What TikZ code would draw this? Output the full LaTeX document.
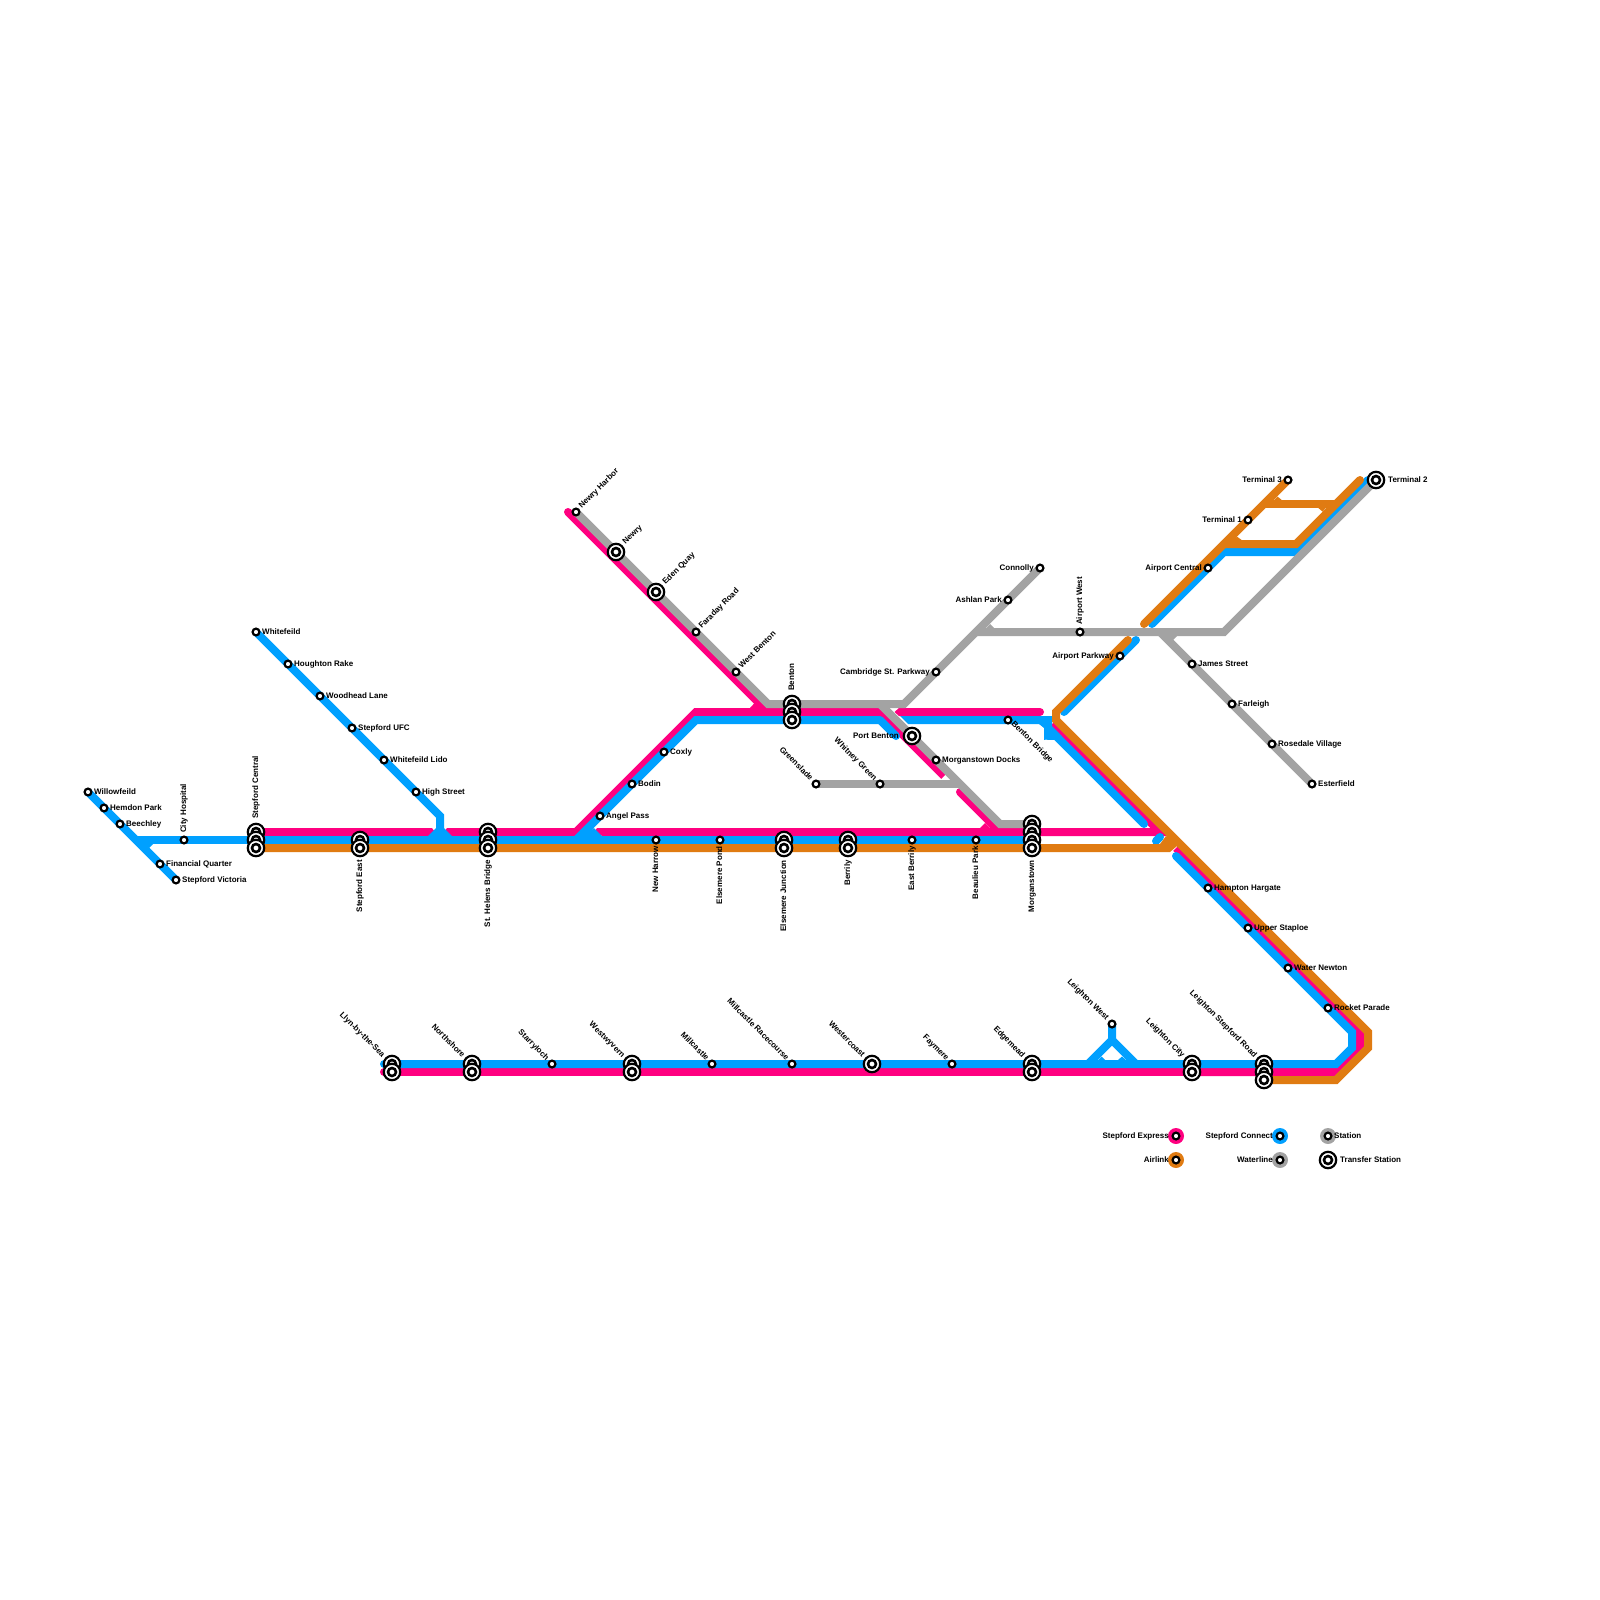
\documentclass[tikz,border=0pt]{standalone}
\usepackage{fontspec}
\setmainfont{Liberation Sans}
\pgfdeclarelayer{lpink}\pgfdeclarelayer{lblue}\pgfdeclarelayer{lgrey}\pgfdeclarelayer{lorange}
\pgfsetlayers{lpink,lblue,lgrey,lorange,main}
\definecolor{cpink}{HTML}{FF0080}
\definecolor{cblue}{HTML}{00A0FF}
\definecolor{cgrey}{HTML}{A3A3A3}
\definecolor{corange}{HTML}{E07B12}
\tikzset{
  stationdot/.style={circle,draw=black,fill=white,line width=2.2pt,inner sep=0pt,minimum size=6.8pt},
  innerdot/.style={circle,draw=black,fill=white,line width=2.6pt,inner sep=0pt,minimum size=8pt},
  xferring/.style={circle,draw=black,fill=white,line width=2.2pt,inner sep=0pt,minimum size=16.4pt},
  lab/.style={inner sep=0pt,font=\bfseries\fontsize{8}{8}\selectfont,text=black},
  swatch/.style={circle,inner sep=0pt,minimum size=16pt},
  pk/.style={draw=cpink,line width=8pt},
  bl/.style={draw=cblue,line width=8pt},
  gy/.style={draw=cgrey,line width=8pt},
  og/.style={draw=corange,line width=8pt},
  rc/.style={line cap=round}
}
\newcommand{\stn}[3]{\node[stationdot] (#1) at (#2,#3) {};}
\newcommand{\xfr}[3]{\node[xferring] (#1) at (#2,#3) {};\node[innerdot] (#1in) at (#1.center) {};}
\newcommand{\lab}[6]{\node[lab,anchor=#3,rotate=#4] (l#1) at ([shift={(#5,#6)}]#1.center) {#2};}
\newcommand{\labE}[2]{\lab{#1}{#2}{base west}{0}{6}{2}}
\newcommand{\labW}[2]{\lab{#1}{#2}{base east}{0}{-6}{2}}
\newcommand{\labN}[2]{\lab{#1}{#2}{base west}{90}{2}{-7}}
\newcommand{\labNb}[2]{\lab{#1}{#2}{base west}{90}{2}{-13}}
\newcommand{\labS}[2]{\lab{#1}{#2}{base east}{90}{2}{6}}
\newcommand{\labSb}[2]{\lab{#1}{#2}{base east}{90}{2}{12}}
\newcommand{\labNE}[2]{\lab{#1}{#2}{base west}{45}{5.7}{-3}}
\newcommand{\labNEb}[2]{\lab{#1}{#2}{base west}{45}{9.5}{-7}}
\newcommand{\labNW}[2]{\lab{#1}{#2}{base east}{-45}{-6}{-3}}
\newcommand{\labNWb}[2]{\lab{#1}{#2}{base east}{-45}{-10}{-6}}
\begin{document}
\begin{tikzpicture}[x=1pt,y=-1pt]
\useasboundingbox (0,0) rectangle (1600,1600);
% ---- stations
\stn{willow}{88}{792}\stn{hemdon}{104}{808}\stn{beech}{120}{824}\stn{finq}{160}{864}\stn{stvic}{176}{880}\stn{cityh}{184}{840}
\xfr{scA}{256}{832}\xfr{scB}{256}{840}\xfr{scC}{256}{848}
\stn{white}{256}{632}\stn{hough}{288}{664}\stn{wood}{320}{696}\stn{sufc}{352}{728}\stn{wlido}{384}{760}\stn{high}{416}{792}
\xfr{seA}{360}{840}\xfr{seB}{360}{848}
\xfr{shA}{488}{832}\xfr{shB}{488}{840}\xfr{shC}{488}{848}
\stn{angel}{600}{816}\stn{bodin}{632}{784}\stn{coxly}{664}{752}
\stn{nharrow}{656}{840}\stn{epond}{720}{840}
\xfr{ejA}{784}{840}\xfr{ejB}{784}{848}
\xfr{beA}{848}{840}\xfr{beB}{848}{848}
\stn{eberr}{912}{840}\stn{beau}{976}{840}
\xfr{moA}{1032}{824}\xfr{moB}{1032}{832}\xfr{moC}{1032}{840}\xfr{moD}{1032}{848}
\stn{nharbor}{576}{512}\xfr{newry}{616}{552}\xfr{eden}{656}{592}\stn{fara}{696}{632}\stn{wbent}{736}{672}
\xfr{bnA}{792}{704}\xfr{bnB}{792}{712}\xfr{bnC}{792}{720}
\xfr{pbent}{912}{736}\stn{mdocks}{936}{760}\stn{green}{816}{784}\stn{whit}{880}{784}
\stn{camb}{936}{672}\stn{ashlan}{1008}{600}\stn{conn}{1040}{568}\stn{bbridge}{1008}{720}
\stn{awest}{1080}{632}\stn{apark}{1120}{656}\stn{acent}{1208}{568}\stn{tone}{1248}{520}\stn{tthree}{1288}{480}\xfr{ttwo}{1376}{480}
\stn{james}{1192}{664}\stn{farl}{1232}{704}\stn{rose}{1272}{744}\stn{ester}{1312}{784}
\stn{hamp}{1208}{888}\stn{upper}{1248}{928}\stn{water}{1288}{968}\stn{rocket}{1328}{1008}
\xfr{llA}{392}{1064}\xfr{llB}{392}{1072}\xfr{noA}{472}{1064}\xfr{noB}{472}{1072}
\stn{starr}{552}{1064}\xfr{weA}{632}{1064}\xfr{weB}{632}{1072}\stn{mill}{712}{1064}\stn{mrace}{792}{1064}
\xfr{wcoast}{872}{1064}\stn{fay}{952}{1064}\xfr{edA}{1032}{1064}\xfr{edB}{1032}{1072}
\stn{lwest}{1112}{1024}\xfr{lcA}{1192}{1064}\xfr{lcB}{1192}{1072}\xfr{lsA}{1264}{1064}\xfr{lsB}{1264}{1072}\xfr{lsC}{1264}{1080}
% ---- labels
\labE{willow}{Willowfeild}\labE{hemdon}{Hemdon Park}\labE{beech}{Beechley}\labE{finq}{Financial Quarter}\labE{stvic}{Stepford Victoria}
\labN{cityh}{City Hospital}\labNb{scA}{Stepford Central}
\labE{white}{Whitefeild}\labE{hough}{Houghton Rake}\labE{wood}{Woodhead Lane}\labE{sufc}{Stepford UFC}\labE{wlido}{Whitefeild Lido}\labE{high}{High Street}
\labSb{seB}{Stepford East}\labSb{shC}{St. Helens Bridge}
\labE{angel}{Angel Pass}\labE{bodin}{Bodin}\labE{coxly}{Coxly}
\labS{nharrow}{New Harrow}\labS{epond}{Elsemere Pond}\labSb{ejB}{Elsemere Junction}\labSb{beB}{Berrily}\labS{eberr}{East Berrily}\labS{beau}{Beaulieu Park}\labSb{moD}{Morganstown}
\labNE{nharbor}{Newry Harbor}\labNEb{newry}{Newry}\labNEb{eden}{Eden Quay}\labNE{fara}{Faraday Road}\labNE{wbent}{West Benton}
\labNb{bnA}{Benton}
\lab{pbent}{Port Benton}{base east}{0}{-13}{2}
\labE{mdocks}{Morganstown Docks}\labNW{green}{Greenslade}\labNW{whit}{Whitney Green}
\labW{camb}{Cambridge St. Parkway}\labW{ashlan}{Ashlan Park}\labW{conn}{Connolly}
\lab{bbridge}{Benton Bridge}{base west}{-45}{3}{4}
\labN{awest}{Airport West}\labW{apark}{Airport Parkway}\labW{acent}{Airport Central}\labW{tone}{Terminal 1}\labW{tthree}{Terminal 3}
\lab{ttwo}{Terminal 2}{base west}{0}{12}{2}
\labE{james}{James Street}\labE{farl}{Farleigh}\labE{rose}{Rosedale Village}\labE{ester}{Esterfield}
\labE{hamp}{Hampton Hargate}\labE{upper}{Upper Staploe}\labE{water}{Water Newton}\labE{rocket}{Rocket Parade}
\labNWb{llA}{Llyn-by-the-Sea}\labNWb{noA}{Northshore}\labNW{starr}{Starryloch}\labNWb{weA}{Westwyvern}\labNW{mill}{Millcastle}\labNW{mrace}{Millcastle Racecourse}
\labNWb{wcoast}{Westercoast}\labNW{fay}{Faymere}\labNWb{edA}{Edgemead}\labNW{lwest}{Leighton West}\labNWb{lcA}{Leighton City}\labNWb{lsA}{Leighton Stepford Road}
% ---- legend
\begin{pgfonlayer}{lorange}
\node[swatch,fill=cpink] (kpink) at (1176,1136) {};
\node[swatch,fill=corange] (korange) at (1176,1160) {};
\node[swatch,fill=cblue] (kblue) at (1280,1136) {};
\node[swatch,fill=cgrey] (kgrey) at (1280,1160) {};
\node[swatch,fill=cgrey] (kstat) at (1328,1136) {};
\end{pgfonlayer}
\stn{kexpress}{1176}{1136}\stn{kair}{1176}{1160}\stn{kconn}{1280}{1136}\stn{kwater}{1280}{1160}\stn{kstation}{1328}{1136}\xfr{ktrans}{1328}{1160}
\lab{kexpress}{Stepford Express}{base east}{0}{-7}{2}
\lab{kair}{Airlink}{base east}{0}{-7}{2}
\lab{kconn}{Stepford Connect}{base east}{0}{-7}{2}
\lab{kwater}{Waterline}{base east}{0}{-7}{2}
\labE{kstation}{Station}
\lab{ktrans}{Transfer Station}{base west}{0}{12}{2}
% ---- way points
\coordinate (ph) at (440,816);
\coordinate (hj) at (440,840);
\coordinate (pA) at (568,512);
\coordinate (pB) at (768,712);
\coordinate (pC) at (880,712);
\coordinate (pD) at (944,776);
\coordinate (pE) at (960,792);
\coordinate (pF) at (1000,832);
\coordinate (pG) at (1160,832);
\coordinate (gA) at (904,704);
\coordinate (gB) at (880,704);
\coordinate (gC) at (1000,824);
\coordinate (gD) at (960,784);
\coordinate (gE) at (976,632);
\coordinate (gF) at (1224,632);
\coordinate (gG) at (1160,632);
% ---- pink
\begin{pgfonlayer}{lpink}
\fill[cpink] (scA.center) ++(0,-4) -- (432,828) -- (435,832) -- (431,836) -- (256,836) -- cycle;
\fill[cpink] (447,828) -- (576,828) -- (576,836) -- (450,836) -- (444,832) -- cycle;
\draw[pk] (448,832) -- (576,832) -- (696,712) -- (pC) -- (pD);
\draw[pk,rc] (pA) -- (pB);
\fill[cpink] (750,708) -- (760,708) -- (755.5,702) -- cycle;
\fill[cpink] (597,828) -- (700,828) -- (700,836) -- (602,836) -- (595,831) -- cycle;
\draw[pk] (700,832) -- (pF);
\draw[pk,rc] (pE) -- (pF);
\draw[pk] (pF) -- (pG) -- (1052,724);
\fill[cpink] (980,828) -- (990,828) -- (985,823) -- cycle;
\fill[cpink] (899,708) -- (910,708) -- (910,716) -- (899,716) -- (894.5,712) -- cycle;
\draw[pk,rc] (905,712) -- (1040,712);
\draw[pk] (1176,848) -- (1360,1032) -- (1360,1048) -- (1336,1072) -- (1200,1072);
\draw[pk,rc] (1200,1072) -- (384,1072);
\end{pgfonlayer}
% ---- blue
\begin{pgfonlayer}{lblue}
\draw[bl] (willow.center) -- (stvic.center);
\fill[cblue] (144,844) -- (153,844) -- (149,848) -- cycle;
\draw[bl] (136,840) -- (moC.center);
\draw[bl] (white.center) -- (ph) -- (hj);
\fill[cblue] (436,828) -- (428,836) -- (452,836) -- (444,828) -- cycle;
\draw[bl] (576,840) -- (696,720) -- (880,720);
\draw[bl,rc] (880,720) -- (896,736);
\fill[cblue] (584,836) -- (602,836) -- (594,828) -- cycle;
\fill[cblue] (900,716) -- (1042,716) -- (1042,724) -- (908,724) -- cycle;
\fill[cblue] (1040,716) -- (1052,716) -- (1052,726) -- (1061.66,736) -- (1044,740) -- (1044,728) -- (1039,724) -- cycle;
\draw[bl,rc] (1048,736) -- (1056,736);
\draw[bl,rc] (1056,736) -- (1144,824);
\draw[bl,rc] (1156,841) -- (1160,837);
\draw[bl,rc] (1176,856) -- (1352,1032) -- (1352,1048) -- (1336,1064) -- (384,1064);
\draw[bl,rc] (1064,712) -- (1136,640);
\draw[bl,rc] (1152,624) -- (1224,552) -- (1296,552) -- (1368,480);
\draw[bl] (lwest.center) -- (1112,1040) -- (1088,1064);
\draw[bl] (1112,1040) -- (1136,1064);
\fill[cblue] (1098,1060) -- (1105,1060) -- (1101.5,1056.5) -- cycle;
\fill[cblue] (1118,1060) -- (1126,1060) -- (1122,1056.5) -- cycle;
\end{pgfonlayer}
% ---- grey
\begin{pgfonlayer}{lgrey}
\draw[gy] (nharbor.center) -- (768,704) -- (gA) -- (conn.center);
\draw[gy] (gB) -- (gC) -- (moA.center);
\draw[gy] (green.center) -- (gD);
\draw[gy] (gE) -- (gF) -- (ttwo.center);
\draw[gy] (gG) -- (ester.center);
\fill[cgrey] (1165,636) -- (1177,636) -- (1173,640) -- cycle;
\fill[cgrey] (986,628) -- (994,628) -- (990,624) -- cycle;
\end{pgfonlayer}
% ---- orange
\begin{pgfonlayer}{lorange}
\fill[corange] (scC.center) ++(0,-4) -- (1177,844) -- (1177,846) -- (1170,852) -- (256,852) -- cycle;
\fill[corange] (1160,844) -- (1166,836) -- (1180,844) -- cycle;
\draw[og,rc] (1128,640) -- (1056,712) -- (1056,720) -- (1368,1032) -- (1368,1048) -- (1336,1080) -- (lsC.center);
\draw[og,rc] (1144,624) -- (tthree.center);
\draw[og,rc] (1224,544) -- (1296,544) -- (1360,480);
\draw[og] (1264,504) -- (1336,504);
\fill[corange] (1233,540) -- (1241.7,540) -- (1237,536.7) -- cycle;
\fill[corange] (1274,500) -- (1281.7,500) -- (1277.5,496.5) -- cycle;
\fill[corange] (1318,507.7) -- (1326,507.7) -- (1322.6,511.7) -- cycle;
\end{pgfonlayer}
\end{tikzpicture}
\end{document}
